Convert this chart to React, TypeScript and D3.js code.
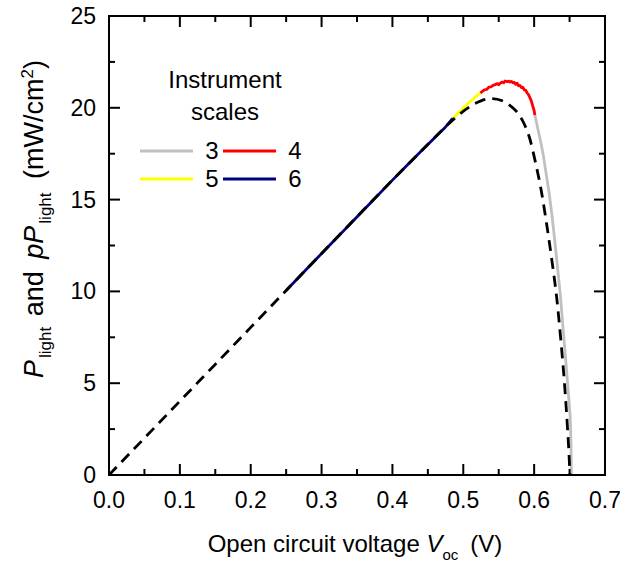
import React, { useEffect, useRef } from 'react';
import * as d3 from 'd3';

// [Voc (V), P (mW/cm2)]
const fitCurve: [number, number][] = [
  [0.0, 0.0], [0.1, 4.02], [0.2, 8.04], [0.3, 12.06], [0.4, 16.06], [0.44, 17.62],
  [0.47, 18.78], [0.49, 19.5], [0.51, 20.08], [0.525, 20.38], [0.54, 20.5],
  [0.555, 20.38], [0.565, 20.15], [0.575, 19.8], [0.585, 19.2], [0.594, 18.3],
  [0.602, 17.0], [0.61, 15.5], [0.6175, 13.7], [0.625, 11.7], [0.632, 9.6],
  [0.638, 7.2], [0.643, 4.9], [0.647, 2.6], [0.6495, 0.9], [0.6505, 0.0],
];

const scale3: [number, number][] = [
  [0.601, 19.6], [0.605, 18.9], [0.609, 18.2], [0.613, 17.4], [0.617, 16.4],
  [0.621, 15.4], [0.625, 14.2], [0.629, 12.8], [0.633, 11.3], [0.637, 9.8],
  [0.641, 7.9], [0.6445, 6.3], [0.648, 4.6], [0.651, 3.1], [0.652, 1.6],
  [0.6525, 0.4], [0.6527, 0.0],
];

const scale4: [number, number][] = [
  [0.524, 20.8], [0.527, 20.9], [0.53, 20.98], [0.533, 21.0], [0.536, 21.12],
  [0.539, 21.14], [0.542, 21.22], [0.545, 21.26], [0.548, 21.32], [0.55, 21.26],
  [0.552, 21.34], [0.555, 21.4], [0.557, 21.36], [0.559, 21.46], [0.562, 21.42],
  [0.564, 21.45], [0.566, 21.4], [0.568, 21.44], [0.57, 21.36], [0.572, 21.38],
  [0.574, 21.28], [0.576, 21.34], [0.578, 21.2], [0.58, 21.22], [0.582, 21.1],
  [0.584, 21.12], [0.586, 20.98], [0.588, 20.96], [0.59, 20.82], [0.592, 20.72],
  [0.594, 20.55], [0.596, 20.38], [0.598, 20.1], [0.6, 19.85], [0.601, 19.6],
];

const scale5: [number, number][] = [
  [0.485, 19.42], [0.492, 19.68], [0.499, 19.95], [0.506, 20.2], [0.512, 20.42],
  [0.518, 20.62], [0.524, 20.8],
];

const scale6: [number, number][] = [
  [0.25, 10.05], [0.28, 11.26], [0.31, 12.46], [0.34, 13.66], [0.37, 14.86],
  [0.4, 16.06], [0.42, 16.84], [0.44, 17.62], [0.46, 18.38], [0.475, 18.96],
  [0.485, 19.42],
];

const scaleNames = ['3', '4', '5', '6'];
const scaleColors = ['#c0c0c0', '#ff0000', '#ffff00', '#000080'];
const xTicks = [0, 0.1, 0.2, 0.3, 0.4, 0.5, 0.6, 0.7];
const xMinor = [0.05, 0.15, 0.25, 0.35, 0.45, 0.55, 0.65];
const yTicks = [0, 5, 10, 15, 20, 25];
const yMinor = [2.5, 7.5, 12.5, 17.5, 22.5];

const FONT = '"Liberation Sans", Arial, Helvetica, sans-serif';

export default function App() {
  const ref = useRef<SVGSVGElement>(null);

  useEffect(() => {
    const svg = d3.select(ref.current);
    svg.selectAll('*').remove();

    const left = 109, right = 605, top = 16, bottom = 475;
    const x = d3.scaleLinear().domain([0, 0.7]).range([left, right]);
    const y = d3.scaleLinear().domain([0, 25]).range([bottom, top]);

    const line = d3.line<[number, number]>()
      .x(d => x(d[0]))
      .y(d => y(d[1]));

    const curves = [scale3, scale4, scale5, scale6];
    curves.forEach((c, i) => {
      svg.append('path')
        .datum(c)
        .attr('fill', 'none')
        .attr('stroke', scaleColors[i])
        .attr('stroke-width', 2.8)
        .attr('stroke-linejoin', 'round')
        .attr('d', line);
    });

    svg.append('path')
      .datum(fitCurve)
      .attr('fill', 'none')
      .attr('stroke', '#000')
      .attr('stroke-width', 2.8)
      .attr('stroke-dasharray', '11,7')
      .attr('d', line.curve(d3.curveMonotoneX));

    // frame
    svg.append('rect')
      .attr('x', left).attr('y', top)
      .attr('width', right - left).attr('height', bottom - top)
      .attr('fill', 'none').attr('stroke', '#000').attr('stroke-width', 2);

    const g = svg.append('g').attr('stroke', '#000').attr('stroke-width', 2);
    const tick = (vals: number[], len: number) => {
      vals.forEach(v => {
        g.append('line').attr('x1', x(v)).attr('x2', x(v)).attr('y1', bottom).attr('y2', bottom - len);
        g.append('line').attr('x1', x(v)).attr('x2', x(v)).attr('y1', top).attr('y2', top + len);
      });
    };
    const ytick = (vals: number[], len: number) => {
      vals.forEach(v => {
        g.append('line').attr('y1', y(v)).attr('y2', y(v)).attr('x1', left).attr('x2', left + len);
        g.append('line').attr('y1', y(v)).attr('y2', y(v)).attr('x1', right).attr('x2', right - len);
      });
    };
    tick(xTicks, 11);
    tick(xMinor, 6);
    ytick(yTicks, 11);
    ytick(yMinor, 6);

    const labels = svg.append('g').attr('font-family', FONT).attr('font-size', 23).attr('fill', '#000');
    xTicks.forEach(v => {
      labels.append('text').attr('x', x(v)).attr('y', 508)
        .attr('text-anchor', 'middle').text(d3.format('.1f')(v));
    });
    yTicks.forEach(v => {
      labels.append('text').attr('x', 96).attr('y', y(v) + 8)
        .attr('text-anchor', 'end').text(v);
    });

    // x title
    const xt = svg.append('text').attr('x', 355).attr('y', 552)
      .attr('text-anchor', 'middle').attr('font-family', FONT).attr('font-size', 24);
    xt.append('tspan').text('Open circuit voltage ');
    xt.append('tspan').attr('font-style', 'italic').text('V');
    xt.append('tspan').attr('font-size', 15).attr('dy', 8).text('oc');
    xt.append('tspan').attr('dy', -8).text('\u2002(V)');

    // y title
    const yt = svg.append('text')
      .attr('transform', 'translate(43,219) rotate(-90)')
      .attr('text-anchor', 'middle').attr('font-family', FONT).attr('font-size', 27);
    yt.append('tspan').attr('font-style', 'italic').text('P');
    yt.append('tspan').attr('font-size', 17).attr('dy', 8).attr('dx', 2).text('light');
    yt.append('tspan').attr('dy', -8).attr('dx', 3).text(' and ');
    yt.append('tspan').attr('font-style', 'italic').attr('dx', 5).text('pP');
    yt.append('tspan').attr('font-size', 17).attr('dy', 8).attr('dx', 2).text('light');
    yt.append('tspan').attr('dy', -8).attr('dx', 6).text(' (mW/cm');
    yt.append('tspan').attr('font-size', 17).attr('dy', -10).text('2');
    yt.append('tspan').attr('dy', 10).text(')');

    // legend
    const lg = svg.append('g').attr('font-family', FONT).attr('font-size', 24);
    lg.append('text').attr('x', 225).attr('y', 88).attr('text-anchor', 'middle').text('Instrument');
    lg.append('text').attr('x', 225).attr('y', 120).attr('text-anchor', 'middle').text('scales');
    scaleNames.forEach((n, i) => {
      const col = i % 2, row = Math.floor(i / 2);
      const lx = 140 + col * 83, ly = 151 + row * 28;
      lg.append('line').attr('x1', lx).attr('x2', lx + 53).attr('y1', ly).attr('y2', ly)
        .attr('stroke', scaleColors[i]).attr('stroke-width', 2.8);
      lg.append('text').attr('x', lx + 72).attr('y', ly + 8).attr('text-anchor', 'middle').text(n);
    });
  }, []);

  return (
    <svg ref={ref} width={620} height={562} viewBox="0 0 620 562"
      style={{ position: 'absolute', left: 0, top: 0, background: '#fff' }} />
  );
}
